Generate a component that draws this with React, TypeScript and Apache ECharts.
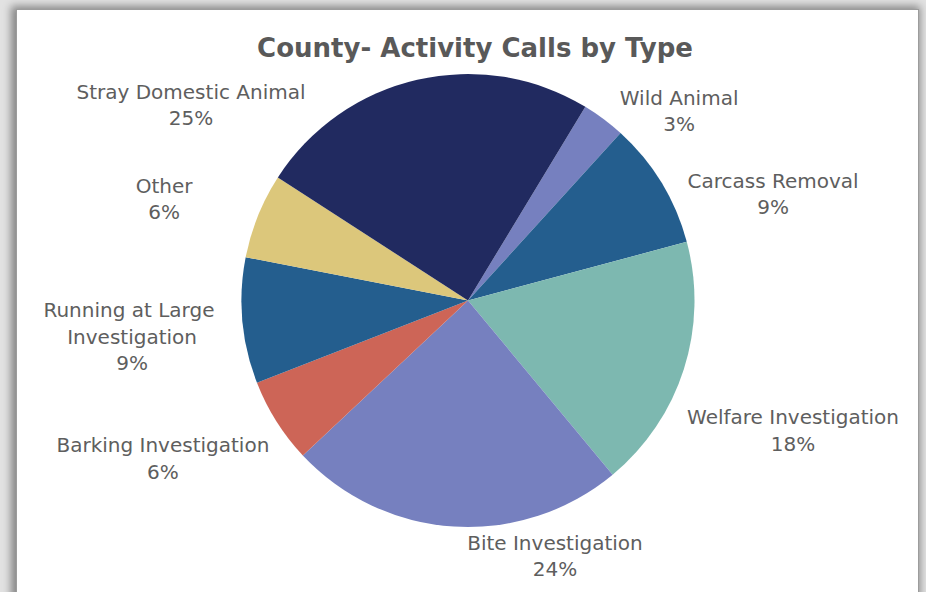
import React, { useEffect, useRef } from "react";
import * as echarts from "echarts";

// Categories in clockwise order starting from the Wild Animal slice
const CATEGORIES = [
  "Wild Animal",
  "Carcass Removal",
  "Welfare Investigation",
  "Bite Investigation",
  "Barking Investigation",
  "Running at Large Investigation",
  "Other",
  "Stray Domestic Animal",
];
// Estimated call counts (percent shares)
const VALUES = [31, 91, 182, 241, 61, 90, 61, 246];
const COLORS = [
  "#7680bf",
  "#245e8e",
  "#7db8b0",
  "#7680bf",
  "#cd6557",
  "#245e8e",
  "#dcc77b",
  "#212a60",
];
const TITLE = "County- Activity Calls by Type";

// Layout (pixels / radius units) — not data
const CX = 468;
const CY = 300.5;
const R = 226.5;
// Label block centers relative to pie centre, in units of the radius
const LABEL_OFFSETS: [number, number][] = [
  [0.932, -0.837],
  [1.347, -0.47],
  [1.435, 0.574],
  [0.384, 1.128],
  [-1.347, 0.698],
  [-1.483, 0.161],
  [-1.342, -0.448],
  [-1.223, -0.863],
];

const FONT = "'DejaVu Sans', sans-serif";

export default function App() {
  const ref = useRef<HTMLDivElement>(null);

  useEffect(() => {
    if (!ref.current) return;
    const chart = echarts.init(ref.current, null, { renderer: "svg" });
    const data = CATEGORIES.map((name, i) => ({
      name,
      value: VALUES[i],
      itemStyle: { color: COLORS[i] },
      label: name.length > 22 ? { width: 190, overflow: "break" } : undefined,
    }));
    chart.setOption({
      animation: false,
      backgroundColor: "transparent",
      title: {
        text: TITLE,
        left: 470,
        top: 30,
        textAlign: "center",
        textStyle: {
          fontFamily: FONT,
          fontSize: 26,
          fontWeight: "bold",
          color: "#595959",
        },
      },
      series: [
        {
          type: "pie",
          center: [CX, CY],
          radius: R,
          startAngle: 58.8,
          clockwise: true,
          percentPrecision: 0,
          avoidLabelOverlap: false,
          itemStyle: { borderWidth: 0 },
          emphasis: { disabled: true },
          label: {
            show: true,
            position: "outside",
            formatter: "{b}\n{d}%",
            fontFamily: FONT,
            fontSize: 20,
            lineHeight: 26.5,
            color: "#5e5e5e",
            align: "center",
          },
          labelLine: { show: false },
          labelLayout: (params: any) => {
            const off = LABEL_OFFSETS[params.dataIndex];
            return {
              x: CX + off[0] * R,
              y: CY + off[1] * R,
              align: "center",
              verticalAlign: "middle",
            };
          },
          data,
        },
      ],
    });
    return () => chart.dispose();
  }, []);

  return (
    <div
      style={{
        position: "absolute",
        left: 0,
        top: 0,
        width: 926,
        height: 592,
        overflow: "hidden",
        background: "#e2e2e2",
      }}
    >
      <div
        style={{
          position: "absolute",
          left: 16,
          top: 9,
          width: 901,
          height: 700,
          background: "#ffffff",
          border: "1px solid #9c9c9c",
          boxShadow: "-2px 0 8px 3px rgba(0,0,0,0.4)",
        }}
      />
      <div
        ref={ref}
        style={{ position: "absolute", left: 0, top: 0, width: 926, height: 592 }}
      />
    </div>
  );
}
